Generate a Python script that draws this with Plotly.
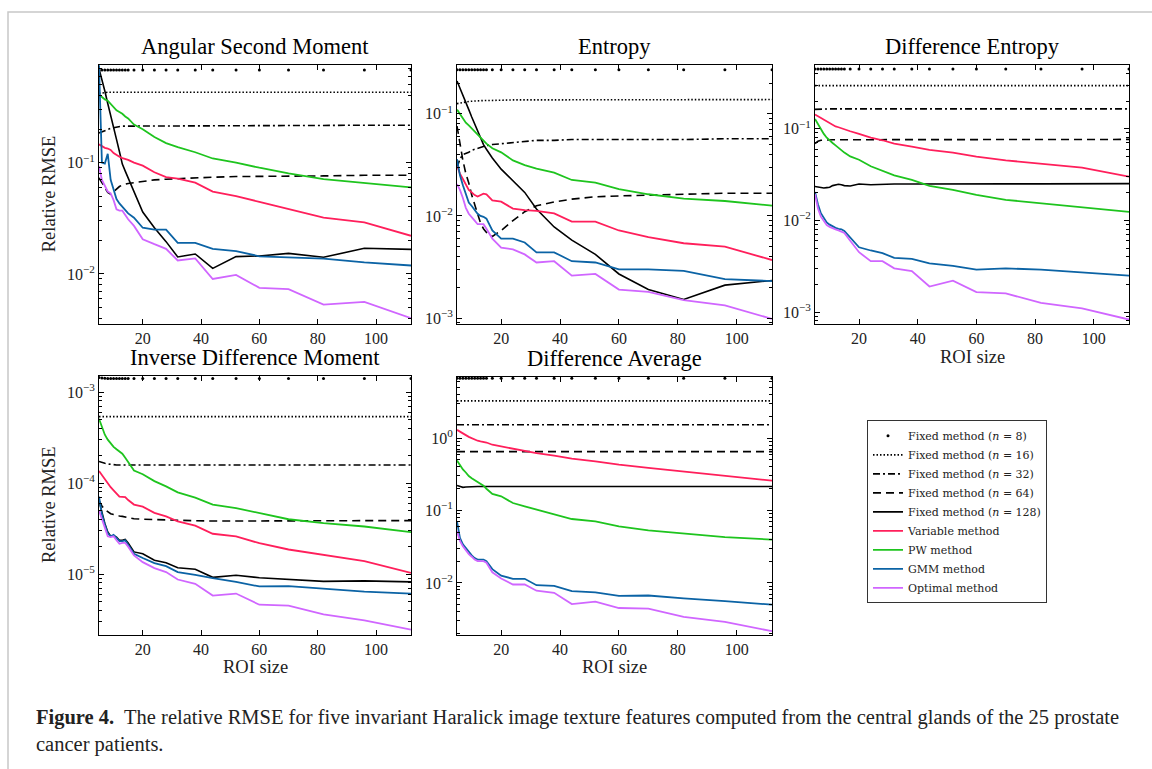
import plotly.graph_objects as go

W, H = 1152, 769

# ---------------- data ----------------
roi = [5, 6, 7, 8, 9, 10, 11, 12, 13, 14, 15, 17, 20, 24, 28, 32, 38, 44, 52, 60, 70, 82, 96, 112]

series_names = ["Fixed method (<i>n</i> = 8)", "Fixed method (<i>n</i> = 16)",
                "Fixed method (<i>n</i> = 32)", "Fixed method (<i>n</i> = 64)",
                "Fixed method (<i>n</i> = 128)", "Variable method", "PW method",
                "GMM method", "Optimal method"]

# Angular Second Moment
asm_n8 = [0.68, 0.68, 0.68, 0.68, 0.68, 0.68, 0.68, 0.68, 0.68, 0.68, 0.68, 0.68,
          0.68, 0.68, 0.68, 0.68, 0.68, 0.68, 0.68, 0.68, 0.68, 0.68, 0.68, 0.68]
asm_n16 = [0.42, 0.42, 0.425, 0.43, 0.43, 0.43, 0.43, 0.43, 0.43, 0.43, 0.43, 0.43,
           0.43, 0.43, 0.43, 0.43, 0.43, 0.43, 0.43, 0.43, 0.43, 0.43, 0.43, 0.43]
asm_n32 = [0.185, 0.19, 0.195, 0.2, 0.203, 0.206, 0.209, 0.212, 0.213, 0.213, 0.213, 0.213,
           0.213, 0.214, 0.214, 0.215, 0.215, 0.216, 0.216, 0.216, 0.216, 0.216, 0.217, 0.217]
asm_n64 = [0.073, 0.066, 0.059, 0.054, 0.052, 0.055, 0.058, 0.061, 0.063, 0.064, 0.065, 0.066,
           0.068, 0.07, 0.071, 0.072, 0.073, 0.074, 0.075, 0.075, 0.076, 0.076, 0.077, 0.077]
asm_n128 = [0.7, 0.57, 0.44, 0.34, 0.27, 0.21, 0.162, 0.126, 0.097, 0.084, 0.073, 0.055,
            0.036, 0.026, 0.0195, 0.0142, 0.0151, 0.0112, 0.0143, 0.0145, 0.0153, 0.0141, 0.017, 0.0166]
asm_var = [0.146, 0.14, 0.136, 0.134, 0.13, 0.122, 0.117, 0.113, 0.11, 0.108, 0.106, 0.1,
           0.094, 0.082, 0.074, 0.072, 0.066, 0.055, 0.05, 0.0444, 0.038, 0.032, 0.029, 0.022]
asm_pw = [0.41, 0.39, 0.37, 0.36, 0.335, 0.31, 0.295, 0.285, 0.275, 0.26, 0.25, 0.22,
          0.2, 0.17, 0.15, 0.138, 0.124, 0.109, 0.1, 0.09, 0.08, 0.071, 0.066, 0.06]
asm_gmm = [0.75, 0.1, 0.098, 0.12, 0.07, 0.056, 0.047, 0.043, 0.04, 0.037, 0.035, 0.032,
           0.026, 0.025, 0.025, 0.019, 0.019, 0.0168, 0.016, 0.0144, 0.014, 0.0137, 0.0127, 0.0119]
asm_opt = [0.093, 0.07, 0.062, 0.055, 0.053, 0.046, 0.038, 0.037, 0.037, 0.034, 0.031, 0.027,
           0.0205, 0.0185, 0.0168, 0.0132, 0.0138, 0.009, 0.0098, 0.0075, 0.0073, 0.0053, 0.0056, 0.004]

# Entropy
ent_n8 = [0.27, 0.27, 0.27, 0.27, 0.27, 0.27, 0.27, 0.27, 0.27, 0.27, 0.27, 0.27,
          0.27, 0.27, 0.27, 0.27, 0.27, 0.27, 0.27, 0.27, 0.27, 0.27, 0.27, 0.27]
ent_n16 = [0.126, 0.128, 0.13, 0.131, 0.132, 0.133, 0.134, 0.134, 0.135, 0.135, 0.135, 0.136,
           0.136, 0.137, 0.137, 0.137, 0.137, 0.138, 0.138, 0.138, 0.138, 0.138, 0.138, 0.138]
ent_n32 = [0.03, 0.036, 0.04, 0.041, 0.042, 0.044, 0.045, 0.046, 0.047, 0.048, 0.049, 0.05,
           0.051, 0.053, 0.054, 0.055, 0.055, 0.056, 0.056, 0.056, 0.056, 0.056, 0.057, 0.057]
ent_n64 = [0.076, 0.05, 0.035, 0.026, 0.021, 0.016, 0.013, 0.01, 0.0085, 0.0075, 0.0069, 0.0063,
           0.0072, 0.009, 0.011, 0.0126, 0.0137, 0.0146, 0.0154, 0.0157, 0.016, 0.0165, 0.0167, 0.0167]
ent_n128 = [0.21, 0.18, 0.155, 0.133, 0.11, 0.093, 0.08, 0.068, 0.058, 0.05, 0.045, 0.037,
            0.0287, 0.022, 0.017, 0.0117, 0.0078, 0.0058, 0.0042, 0.0027, 0.0019, 0.00152, 0.0021, 0.00233]
ent_var = [0.031, 0.026, 0.023, 0.02, 0.018, 0.017, 0.016, 0.0155, 0.016, 0.0165, 0.0163, 0.0142,
           0.0138, 0.0118, 0.0114, 0.0112, 0.0106, 0.0088, 0.0088, 0.0072, 0.0062, 0.0054, 0.005, 0.0037]
ent_pw = [0.11, 0.1, 0.09, 0.082, 0.077, 0.072, 0.067, 0.063, 0.058, 0.054, 0.051, 0.046,
          0.042, 0.035, 0.0315, 0.029, 0.0265, 0.0225, 0.0212, 0.0183, 0.0163, 0.0148, 0.014, 0.0126]
ent_gmm = [0.036, 0.025, 0.02, 0.016, 0.0135, 0.0125, 0.0115, 0.0105, 0.01, 0.0098, 0.0094, 0.0072,
           0.006, 0.006, 0.0055, 0.0044, 0.0044, 0.0036, 0.0035, 0.003, 0.003, 0.0029, 0.0024, 0.0023]
ent_opt = [0.0205, 0.018, 0.015, 0.012, 0.0105, 0.0098, 0.009, 0.0083, 0.0083, 0.0083, 0.0075, 0.006,
           0.0049, 0.0047, 0.0042, 0.0035, 0.0036, 0.0026, 0.0027, 0.0019, 0.0018, 0.0015, 0.00133, 0.00098]

# Difference Entropy
de_n8 = [0.45, 0.45, 0.45, 0.45, 0.45, 0.45, 0.45, 0.45, 0.45, 0.45, 0.45, 0.45,
         0.45, 0.45, 0.45, 0.45, 0.45, 0.45, 0.45, 0.45, 0.45, 0.45, 0.45, 0.45]
de_n16 = [0.296, 0.296, 0.296, 0.296, 0.296, 0.296, 0.296, 0.296, 0.296, 0.296, 0.296, 0.296,
          0.296, 0.296, 0.296, 0.296, 0.296, 0.296, 0.296, 0.296, 0.296, 0.296, 0.296, 0.296]
de_n32 = [0.163, 0.164, 0.165, 0.165, 0.165, 0.165, 0.165, 0.165, 0.165, 0.165, 0.165, 0.165,
          0.165, 0.165, 0.165, 0.165, 0.165, 0.165, 0.165, 0.165, 0.165, 0.165, 0.165, 0.165]
de_n64 = [0.069, 0.073, 0.075, 0.0755, 0.0757, 0.0758, 0.076, 0.076, 0.076, 0.076, 0.076, 0.076,
          0.0762, 0.0762, 0.0763, 0.0763, 0.0764, 0.0764, 0.0765, 0.0765, 0.0766, 0.0766, 0.0766, 0.0766]
de_n128 = [0.0235, 0.0232, 0.0228, 0.0226, 0.0228, 0.023, 0.024, 0.0245, 0.0248, 0.0245, 0.024, 0.0238,
           0.025, 0.0245, 0.0248, 0.025, 0.025, 0.0251, 0.0251, 0.0251, 0.0251, 0.0251, 0.0252, 0.0252]
de_var = [0.143, 0.137, 0.132, 0.127, 0.122, 0.116, 0.11, 0.106, 0.104, 0.101, 0.099, 0.094,
          0.088, 0.08, 0.075, 0.069, 0.064, 0.059, 0.055, 0.0496, 0.0453, 0.0417, 0.0377, 0.03]
de_pw = [0.128, 0.112, 0.1, 0.088, 0.08, 0.074, 0.07, 0.066, 0.062, 0.058, 0.055, 0.05,
         0.046, 0.039, 0.0345, 0.031, 0.0277, 0.0238, 0.0216, 0.019, 0.0168, 0.0154, 0.0138, 0.0124]
de_gmm = [0.0205, 0.015, 0.012, 0.0105, 0.0095, 0.009, 0.0086, 0.0083, 0.0081, 0.008, 0.0077, 0.0066,
          0.0051, 0.0047, 0.0044, 0.0039, 0.0038, 0.0034, 0.0032, 0.0029, 0.003, 0.0029, 0.0027, 0.0025]
de_opt = [0.0193, 0.0135, 0.011, 0.0099, 0.0089, 0.0085, 0.0082, 0.008, 0.0078, 0.0076, 0.0073, 0.006,
          0.0045, 0.0036, 0.0036, 0.003, 0.0028, 0.0019, 0.0022, 0.00165, 0.0016, 0.00126, 0.0011, 0.00083]

# Inverse Difference Moment
idm_n8 = [0.00145, 0.00143, 0.00142, 0.00141, 0.00141, 0.00141, 0.00141, 0.00141, 0.00141, 0.00141,
          0.00141, 0.00141, 0.00141, 0.00141, 0.00141, 0.00141, 0.00141, 0.00141, 0.00141, 0.00141,
          0.00141, 0.00141, 0.00141, 0.00141]
idm_n16 = [0.000537, 0.000537, 0.000537, 0.000537, 0.000537, 0.000537, 0.000537, 0.000537,
           0.000537, 0.000537, 0.000537, 0.000537, 0.000537, 0.000537, 0.000537, 0.000537,
           0.000537, 0.000537, 0.000537, 0.000537, 0.000537, 0.000537, 0.000537, 0.000537]
idm_n32 = [0.000173, 0.000168, 0.000165, 0.000162, 0.00016, 0.000159, 0.000158, 0.000158,
           0.000158, 0.000158, 0.000158, 0.000158, 0.000158, 0.000158, 0.000158, 0.000158,
           0.000158, 0.000158, 0.000158, 0.000158, 0.000158, 0.000158, 0.000158, 0.000158]
idm_n64 = [6.4e-5, 5.6e-5, 5.1e-5, 4.8e-5, 4.6e-5, 4.5e-5, 4.4e-5, 4.35e-5, 4.3e-5, 4.25e-5, 4.2e-5, 4.05e-5,
           4.0e-5, 3.95e-5, 3.9e-5, 3.9e-5, 3.85e-5, 3.82e-5, 3.84e-5, 3.85e-5, 3.85e-5, 3.85e-5, 3.86e-5, 3.86e-5]
idm_n128 = [6.4e-5, 4.6e-5, 3.6e-5, 2.9e-5, 2.6e-5, 2.65e-5, 2.55e-5, 2.35e-5, 2.35e-5, 2.4e-5, 2.2e-5, 1.75e-5,
            1.67e-5, 1.42e-5, 1.33e-5, 1.17e-5, 1.13e-5, 9.2e-6, 9.7e-6, 9.1e-6, 8.7e-6, 8.3e-6, 8.4e-6, 8.2e-6]
idm_var = [1.36e-4, 1.22e-4, 1.12e-4, 1.0e-4, 9.0e-5, 8.3e-5, 7.6e-5, 7.1e-5, 7.05e-5, 7.0e-5, 6.5e-5, 5.8e-5,
           5.5e-5, 4.7e-5, 4.3e-5, 3.8e-5, 3.4e-5, 2.77e-5, 2.6e-5, 2.18e-5, 1.86e-5, 1.63e-5, 1.39e-5, 1.03e-5]
idm_pw = [5.1e-4, 4.2e-4, 3.4e-4, 3.0e-4, 2.7e-4, 2.5e-4, 2.35e-4, 2.2e-4, 2.1e-4, 1.9e-4, 1.7e-4, 1.37e-4,
          1.25e-4, 1.05e-4, 9.2e-5, 7.9e-5, 6.9e-5, 5.8e-5, 5.3e-5, 4.7e-5, 4.0e-5, 3.63e-5, 3.33e-5, 2.88e-5]
idm_gmm = [7.1e-5, 4.5e-5, 3.5e-5, 2.8e-5, 2.6e-5, 2.7e-5, 2.5e-5, 2.3e-5, 2.3e-5, 2.35e-5, 2.1e-5, 1.67e-5,
           1.5e-5, 1.32e-5, 1.22e-5, 1.05e-5, 9.8e-6, 9.0e-6, 8.2e-6, 7.3e-6, 7.35e-6, 6.9e-6, 6.4e-6, 6.1e-6]
idm_opt = [5.0e-5, 4.0e-5, 3.3e-5, 2.6e-5, 2.55e-5, 2.6e-5, 2.35e-5, 2.15e-5, 2.2e-5, 2.2e-5, 2.0e-5, 1.6e-5,
           1.35e-5, 1.16e-5, 1.05e-5, 8.7e-6, 7.8e-6, 5.8e-6, 6.1e-6, 4.6e-6, 4.5e-6, 3.6e-6, 3.1e-6, 2.45e-6]

# Difference Average
da_n8 = [6.7, 6.7, 6.7, 6.7, 6.7, 6.7, 6.7, 6.7, 6.7, 6.7, 6.7, 6.7,
         6.7, 6.7, 6.7, 6.7, 6.7, 6.7, 6.7, 6.7, 6.7, 6.7, 6.7, 6.7]
da_n16 = [3.27, 3.27, 3.27, 3.27, 3.27, 3.27, 3.27, 3.27, 3.27, 3.27, 3.27, 3.27,
          3.27, 3.27, 3.27, 3.27, 3.27, 3.27, 3.27, 3.27, 3.27, 3.27, 3.27, 3.27]
da_n32 = [1.53, 1.53, 1.53, 1.53, 1.53, 1.53, 1.53, 1.53, 1.53, 1.53, 1.53, 1.53,
          1.53, 1.53, 1.53, 1.53, 1.53, 1.53, 1.53, 1.53, 1.53, 1.53, 1.53, 1.53]
da_n64 = [0.65, 0.65, 0.65, 0.65, 0.65, 0.65, 0.65, 0.65, 0.65, 0.65, 0.65, 0.65,
          0.65, 0.65, 0.65, 0.65, 0.65, 0.65, 0.65, 0.65, 0.65, 0.65, 0.65, 0.65]
da_n128 = [0.222, 0.214, 0.209, 0.211, 0.213, 0.214, 0.215, 0.215, 0.215, 0.215, 0.215, 0.215,
           0.216, 0.215, 0.215, 0.215, 0.215, 0.215, 0.215, 0.215, 0.215, 0.215, 0.215, 0.215]
da_var = [1.30, 1.22, 1.15, 1.1, 1.04, 0.99, 0.95, 0.92, 0.9, 0.885, 0.87, 0.81,
          0.77, 0.705, 0.66, 0.62, 0.575, 0.52, 0.477, 0.43, 0.388, 0.347, 0.305, 0.258]
da_pw = [0.49, 0.42, 0.37, 0.335, 0.3, 0.28, 0.265, 0.25, 0.235, 0.22, 0.2, 0.17,
         0.157, 0.127, 0.114, 0.103, 0.09, 0.0763, 0.071, 0.0605, 0.053, 0.048, 0.043, 0.0396]
da_gmm = [0.071, 0.042, 0.034, 0.03, 0.027, 0.024, 0.022, 0.021, 0.021, 0.021, 0.02, 0.0155,
          0.0126, 0.0114, 0.0114, 0.0093, 0.0091, 0.0077, 0.0074, 0.0066, 0.0067, 0.0061, 0.0056, 0.005]
da_opt = [0.052, 0.038, 0.032, 0.028, 0.025, 0.023, 0.021, 0.02, 0.02, 0.02, 0.019, 0.014,
          0.0115, 0.0095, 0.0095, 0.0078, 0.0073, 0.0051, 0.0055, 0.0045, 0.0044, 0.0034, 0.0029, 0.00215]

panel_titles = ["Angular Second Moment", "Entropy", "Difference Entropy",
                "Inverse Difference Moment", "Difference Average"]
panel_data = [
    [asm_n8, asm_n16, asm_n32, asm_n64, asm_n128, asm_var, asm_pw, asm_gmm, asm_opt],
    [ent_n8, ent_n16, ent_n32, ent_n64, ent_n128, ent_var, ent_pw, ent_gmm, ent_opt],
    [de_n8, de_n16, de_n32, de_n64, de_n128, de_var, de_pw, de_gmm, de_opt],
    [idm_n8, idm_n16, idm_n32, idm_n64, idm_n128, idm_var, idm_pw, idm_gmm, idm_opt],
    [da_n8, da_n16, da_n32, da_n64, da_n128, da_var, da_pw, da_gmm, da_opt],
]
x_ticks = [20, 40, 60, 80, 100]
decades = [-6, -5, -4, -3, -2, -1, 0]
caption = ("<b>Figure 4.</b>  The relative RMSE for five invariant Haralick image texture "
           "features computed from the central glands of the 25 prostate<br>cancer patients.")

# ---------------- layout / style ----------------
# panel boxes in pixels: (left, right, top, bottom), log10 y-range
boxes = [(99, 411, 65, 325), (457, 772, 65, 325), (815, 1129, 65, 325),
         (99, 411, 377, 637), (457, 772, 378, 637)]
yranges = [(-2.448, -0.12), (-3.056, -0.519), (-3.127, -0.301), (-5.665, -2.818), (-2.713, 0.851)]

styles = [
    dict(mode="markers", marker=dict(color="black", size=3)),
    dict(mode="lines", line=dict(color="black", width=1.6, dash="1.5px,2px")),
    dict(mode="lines", line=dict(color="black", width=1.6, dash="7px,3px,2px,3px")),
    dict(mode="lines", line=dict(color="black", width=1.6, dash="8px,5px")),
    dict(mode="lines", line=dict(color="black", width=1.6)),
    dict(mode="lines", line=dict(color="#FF1F5B", width=1.8)),
    dict(mode="lines", line=dict(color="#1EC41E", width=1.8)),
    dict(mode="lines", line=dict(color="#0B63A5", width=1.8)),
    dict(mode="lines", line=dict(color="#D066FF", width=1.8)),
]

SERIF = "Liberation Serif"
fig = go.Figure()


def px(x):
    return x / W


def py(y):
    return 1 - y / H


minor_vals = [m * 10 ** d for d in decades for m in range(2, 10)]
major_vals = [10 ** d for d in decades]
major_text = ["10<sup>%s</sup>" % (("\u2212%d" % -d) if d < 0 else str(d)) for d in decades]

annotations = []
for i, (title, data) in enumerate(zip(panel_titles, panel_data)):
    l, r, t, b = boxes[i]
    xa = "xaxis" if i == 0 else "xaxis%d" % (i + 1)
    ya = "yaxis" if i == 0 else "yaxis%d" % (i + 1)
    xr = "x" if i == 0 else "x%d" % (i + 1)
    yr = "y" if i == 0 else "y%d" % (i + 1)
    for k, vals in enumerate(data):
        fig.add_trace(go.Scatter(x=roi, y=vals, name=series_names[k], xaxis=xr, yaxis=yr,
                                 showlegend=(i == 0), **styles[k]))
    fig.layout[xa] = dict(domain=[px(l), px(r)], range=[5, 112], anchor=yr,
                          showline=True, linecolor="black", linewidth=1, mirror="allticks",
                          ticks="inside", ticklen=5, tickcolor="black",
                          tickvals=x_ticks, showgrid=False, zeroline=False,
                          tickfont=dict(family=SERIF, size=16, color="#222"))
    fig.layout[ya] = dict(domain=[py(b), py(t)], type="log", range=list(yranges[i]), anchor=xr,
                          showline=True, linecolor="black", linewidth=1, mirror="allticks",
                          ticks="inside", ticklen=5, tickcolor="black",
                          tickvals=major_vals, ticktext=major_text, showgrid=False,
                          minor=dict(tickvals=minor_vals, ticks="inside", ticklen=3,
                                     tickcolor="black", showgrid=False),
                          tickfont=dict(family=SERIF, size=16, color="#222"))
    annotations.append(dict(text=title, x=px((l + r) / 2), y=py(t - 18), xref="paper", yref="paper",
                            xanchor="center", yanchor="middle", showarrow=False,
                            font=dict(family=SERIF, size=22.5, color="black")))

# axis titles
for (xc, yc) in [(49, 195), (49, 507)]:
    annotations.append(dict(text="Relative RMSE", x=px(xc), y=py(yc), xref="paper", yref="paper",
                            xanchor="center", yanchor="middle", textangle=-90, showarrow=False,
                            font=dict(family=SERIF, size=18.5, color="#222")))
for (xc, yc) in [(972, 358), (255, 670), (614, 670)]:
    annotations.append(dict(text="ROI size", x=px(xc), y=py(yc), xref="paper", yref="paper",
                            xanchor="center", yanchor="middle", showarrow=False,
                            font=dict(family=SERIF, size=18.5, color="#222")))

# caption
annotations.append(dict(text=caption, x=px(34), y=py(707), xref="paper", yref="paper",
                        xanchor="left", yanchor="top", align="left", showarrow=False,
                        font=dict(family=SERIF, size=20.5, color="#222")))

fig.update_layout(
    width=W, height=H, margin=dict(l=0, r=0, t=0, b=0),
    paper_bgcolor="white", plot_bgcolor="white",
    annotations=annotations,
    showlegend=True,
    legend=dict(x=px(867), y=py(422), xanchor="left", yanchor="top",
                bordercolor="#333", borderwidth=1, bgcolor="white",
                font=dict(family="DejaVu Serif", size=11, color="#222"), tracegroupgap=0,
                itemwidth=30),
    shapes=[dict(type="rect", xref="paper", yref="paper", x0=px(8), y0=py(12), x1=1.05, y1=-0.05,
                 line=dict(color="#c8c8c8", width=1.5), layer="below")],
)

fig.write_html("out.html")
